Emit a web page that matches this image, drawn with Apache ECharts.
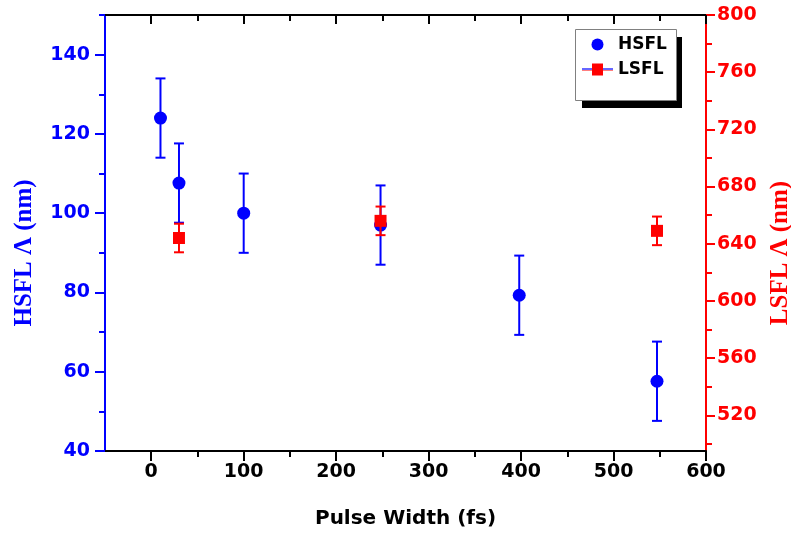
<!DOCTYPE html>
<html>
<head>
<meta charset="utf-8">
<script src="https://cdn.jsdelivr.net/npm/echarts@6/dist/echarts.min.js"></script>
<style>
html, body { margin: 0; padding: 0; background: #fff; }
#main { width: 791px; height: 535px; }
</style>
</head>
<body>
<div id="main"></div>
<script>
// pulse width (fs) and ripple period (nm)
var pulseWidthH = [10, 30, 100, 248, 398, 547];
var hsfl = [124, 107.6, 100, 97, 79.3, 57.6];
var hsflErr = [10, 10, 10, 10, 10, 10];

var pulseWidthL = [30, 248, 547];
var lsfl = [644, 656, 649];
var lsflErr = [10, 10, 10];

var xMajor = [0, 100, 200, 300, 400, 500, 600];
var xMinor = [50, 150, 250, 350, 450, 550];
var leftMajor = [40, 60, 80, 100, 120, 140];
var leftMinor = [50, 70, 90, 110, 130, 150];
var rightMajor = [520, 560, 600, 640, 680, 720, 760, 800];
var rightMinor = [500, 540, 580, 620, 660, 700, 740, 780];

var BLUE = '#0000ff';
var RED = '#ff0000';

var dom = document.getElementById('main');
var myChart = echarts.init(dom);

function pts(xs, ys) {
    return xs.map(function (x, i) { return [x, ys[i]]; });
}
function bars(xs, ys, es) {
    return xs.map(function (x, i) { return [x, ys[i] - es[i], ys[i] + es[i]]; });
}
function errorBar(color) {
    return function (params, api) {
        var x = api.value(0);
        var lo = api.coord([x, api.value(1)]);
        var hi = api.coord([x, api.value(2)]);
        var hw = 5;
        var st = { stroke: color, lineWidth: 2 };
        return {
            type: 'group',
            children: [
                { type: 'line', shape: { x1: hi[0], y1: hi[1], x2: lo[0], y2: lo[1] }, style: st },
                { type: 'line', shape: { x1: hi[0] - hw, y1: hi[1], x2: hi[0] + hw, y2: hi[1] }, style: st },
                { type: 'line', shape: { x1: lo[0] - hw, y1: lo[1], x2: lo[0] + hw, y2: lo[1] }, style: st }
            ]
        };
    };
}

var tickFont = { fontFamily: 'DejaVu Sans', fontWeight: 'bold', fontSize: 19 };

// small helper so every axis copy shares the same range
function axisCopy(extra, min, max) {
    return Object.assign({
        type: 'value', min: min, max: max,
        axisLine: { show: false, onZero: false },
        axisLabel: { show: false },
        splitLine: { show: false }
    }, extra);
}

option = {
    backgroundColor: '#fff',
    animation: false,
    grid: { left: 105, right: 85, top: 15, bottom: 84, containLabel: false, outerBoundsMode: 'none' },
    graphic: [
        // legend frame with its hard drop shadow
        { type: 'rect', left: 582, top: 37, z: 0, shape: { width: 100, height: 71 }, style: { fill: '#000' } },
        { type: 'rect', left: 575, top: 29, z: 1, shape: { width: 101, height: 71 }, style: { fill: '#fff', stroke: '#808080', lineWidth: 1 } },
        // the LSFL legend line is drawn bluish in the original
        { type: 'line', z: 100, shape: { x1: 582, y1: 69, x2: 592, y2: 69 }, style: { stroke: '#6666ff', lineWidth: 2 } },
        { type: 'line', z: 100, shape: { x1: 603, y1: 69, x2: 613, y2: 69 }, style: { stroke: '#6666ff', lineWidth: 2 } }
    ],
    legend: {
        left: 575,
        top: 29,
        z: 10,
        orient: 'vertical',
        padding: [7, 12, 20, 7],
        itemWidth: 31,
        itemHeight: 12,
        itemGap: 8,
        textStyle: { fontFamily: 'DejaVu Sans', fontWeight: 'bold', fontSize: 17, color: '#000' },
        data: [
            { name: 'HSFL', icon: 'circle' },
            { name: 'LSFL', icon: 'path://M0,5H31V7H0Z M10,0H21V12H10Z' }
        ]
    },
    xAxis: [
        axisCopy({
            position: 'bottom',
            name: 'Pulse Width (fs)', nameLocation: 'middle', nameGap: 58,
            nameTextStyle: { fontFamily: 'DejaVu Sans', fontWeight: 'bold', fontSize: 20, color: '#000' },
            axisLine: { show: true, onZero: false, lineStyle: { color: '#000', width: 2 } },
            axisTick: { show: true, inside: false, length: 10, customValues: xMajor, lineStyle: { color: '#000', width: 2 } },
            axisLabel: Object.assign({ color: '#000', margin: 12, customValues: xMajor }, tickFont)
        }, -50, 600),
        axisCopy({
            position: 'bottom',
            axisTick: { show: true, inside: false, length: 6, customValues: xMinor, lineStyle: { color: '#000', width: 2 } }
        }, -50, 600),
        axisCopy({
            position: 'top',
            axisLine: { show: true, onZero: false, lineStyle: { color: '#000', width: 2 } },
            axisTick: { show: true, inside: true, length: 9, customValues: xMajor, lineStyle: { color: '#000', width: 2 } }
        }, -50, 600),
        axisCopy({
            position: 'top',
            axisTick: { show: true, inside: true, length: 6, customValues: xMinor, lineStyle: { color: '#000', width: 2 } }
        }, -50, 600)
    ],
    yAxis: [
        axisCopy({
            position: 'left',
            name: 'HSFL Λ (nm)', nameLocation: 'middle', nameRotate: 90, nameGap: 68,
            nameTextStyle: { fontFamily: 'Liberation Serif', fontWeight: 'bold', fontSize: 25, color: BLUE, padding: [0, 40, 0, 0] },
            axisLine: { show: true, onZero: false, lineStyle: { color: BLUE, width: 2 } },
            axisTick: { show: true, inside: false, length: 10, customValues: leftMajor, lineStyle: { color: BLUE, width: 2 } },
            axisLabel: Object.assign({ color: BLUE, margin: 15, customValues: leftMajor }, tickFont)
        }, 40, 150),
        axisCopy({
            position: 'left',
            axisTick: { show: true, inside: false, length: 6, customValues: leftMinor, lineStyle: { color: BLUE, width: 2 } }
        }, 40, 150),
        axisCopy({
            position: 'right',
            name: 'LSFL Λ (nm)', nameLocation: 'middle', nameRotate: 90, nameGap: 60,
            nameTextStyle: { fontFamily: 'Liberation Serif', fontWeight: 'bold', fontSize: 25, color: RED, padding: [0, 40, 0, 0] },
            axisLine: { show: true, onZero: false, lineStyle: { color: RED, width: 2 } },
            axisTick: { show: true, inside: false, length: 9, customValues: rightMajor, lineStyle: { color: RED, width: 2 } },
            axisLabel: Object.assign({ color: RED, margin: 11, customValues: rightMajor }, tickFont)
        }, 495, 800),
        axisCopy({
            position: 'right',
            axisTick: { show: true, inside: false, length: 6, customValues: rightMinor, lineStyle: { color: RED, width: 2 } }
        }, 495, 800)
    ],
    series: [
        {
            name: 'HSFL err', type: 'custom', xAxisIndex: 0, yAxisIndex: 0, z: 2,
            renderItem: errorBar(BLUE), encode: { x: 0, y: [1, 2] },
            data: bars(pulseWidthH, hsfl, hsflErr)
        },
        {
            name: 'HSFL', type: 'scatter', xAxisIndex: 0, yAxisIndex: 0, z: 3,
            symbol: 'circle', symbolSize: 13,
            itemStyle: { color: BLUE, opacity: 1 },
            data: pts(pulseWidthH, hsfl)
        },
        {
            name: 'LSFL err', type: 'custom', xAxisIndex: 0, yAxisIndex: 2, z: 4,
            renderItem: errorBar(RED), encode: { x: 0, y: [1, 2] },
            data: bars(pulseWidthL, lsfl, lsflErr)
        },
        {
            name: 'LSFL', type: 'scatter', xAxisIndex: 0, yAxisIndex: 2, z: 5,
            symbol: 'rect', symbolSize: 12,
            itemStyle: { color: RED, opacity: 1 },
            data: pts(pulseWidthL, lsfl)
        }
    ]
};

if (option && typeof option === 'object') {
    myChart.setOption(option, true);
}
</script>
</body>
</html>
